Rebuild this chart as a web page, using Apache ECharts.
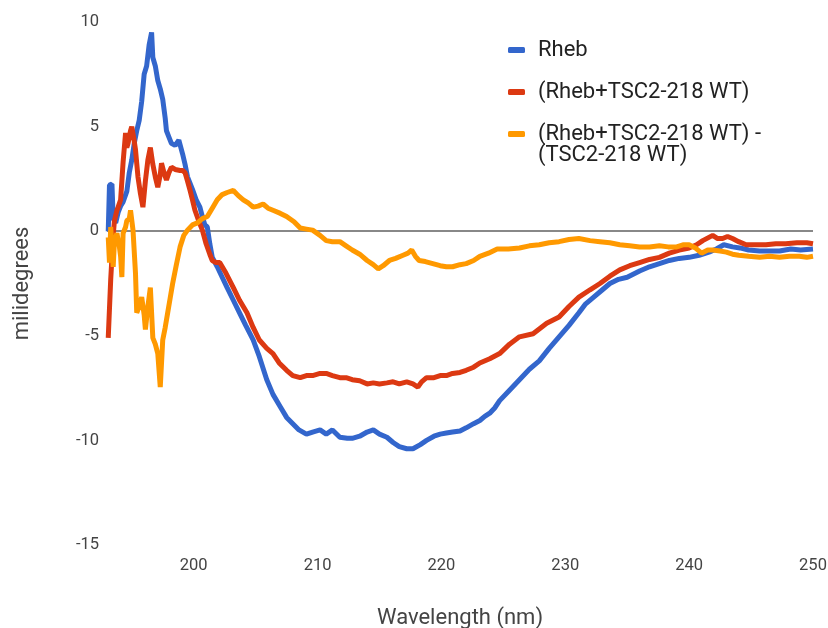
<!DOCTYPE html>
<html>
<head>
<meta charset="utf-8">
<script src="https://cdn.jsdelivr.net/npm/echarts@6/dist/echarts.min.js"></script>
<style>
  html, body { margin: 0; padding: 0; background: #fff; }
  #chart { width: 828px; height: 628px; }
</style>
</head>
<body>
<div id="chart"></div>
<script>
// series names
const seriesNames = ['Rheb', '(Rheb+TSC2-218 WT)', '(Rheb+TSC2-218 WT) - (TSC2-218 WT)'];
const xTicks = [200, 210, 220, 230, 240, 250];

// [wavelength nm, millidegrees]
const rheb = [
  [193.1, 0.0], [193.2, 2.2], [193.4, 2.25], [193.5, 0.6], [193.7, 0.4], [193.9, 0.9], [194.1, 1.2],
  [194.3, 1.4], [194.6, 1.9], [194.8, 2.8], [195.0, 3.4], [195.2, 4.2], [195.4, 4.8], [195.6, 5.3],
  [195.8, 6.2], [196.0, 7.5], [196.2, 7.9], [196.4, 8.9], [196.6, 9.5], [196.7, 8.3], [196.9, 7.9],
  [197.1, 7.2], [197.3, 6.8], [197.5, 6.3], [197.7, 5.4], [197.8, 4.8], [198.0, 4.5], [198.2, 4.2],
  [198.5, 4.1], [198.8, 4.35], [199.1, 3.7], [199.3, 3.2], [199.5, 2.6], [199.7, 2.3], [199.9, 2.0],
  [200.2, 1.5], [200.5, 1.15], [200.7, 0.7], [200.9, 0.3], [201.1, 0.2], [201.3, -0.6], [201.5, -1.25],
  [201.9, -1.7], [202.3, -2.2], [202.7, -2.7], [203.2, -3.3], [203.7, -3.9], [204.2, -4.5], [204.8, -5.2],
  [205.3, -6.0], [205.9, -7.1], [206.4, -7.8], [207.0, -8.4], [207.5, -8.9], [208.0, -9.2], [208.5, -9.5],
  [209.1, -9.7], [209.6, -9.6], [210.2, -9.5], [210.7, -9.7], [211.2, -9.5], [211.8, -9.85], [212.4, -9.9],
  [212.8, -9.9], [213.4, -9.8], [214.0, -9.6], [214.5, -9.5], [215.0, -9.7], [215.6, -9.85], [216.1, -10.1],
  [216.6, -10.3], [217.2, -10.4], [217.7, -10.4], [218.3, -10.2], [218.8, -10.0], [219.4, -9.8], [219.9, -9.7],
  [220.4, -9.65], [220.9, -9.6], [221.5, -9.55], [222.0, -9.4], [222.6, -9.2], [223.1, -9.05], [223.5, -8.85],
  [223.9, -8.7], [224.3, -8.45], [224.7, -8.1], [225.5, -7.6], [226.3, -7.1], [227.1, -6.6], [227.9, -6.2],
  [228.7, -5.6], [229.5, -5.05], [230.3, -4.5], [231.1, -3.9], [231.6, -3.5], [232.2, -3.2], [233.0, -2.8],
  [233.6, -2.5], [234.3, -2.3], [235.0, -2.2], [236.0, -1.9], [236.8, -1.7], [237.6, -1.55], [238.4, -1.4],
  [239.2, -1.3], [240.0, -1.25], [240.8, -1.15], [241.6, -1.0], [242.2, -0.85], [242.8, -0.65], [243.5, -0.75],
  [244.1, -0.8], [244.8, -0.9], [245.7, -0.95], [246.6, -0.95], [247.3, -0.95], [248.2, -0.85], [249.0, -0.9],
  [250.0, -0.85]
];

const rhebTsc = [
  [193.1, -5.1], [193.3, -2.3], [193.5, -0.2], [193.6, 0.5], [193.8, 1.0], [193.9, 1.15], [194.1, 1.5],
  [194.3, 3.3], [194.5, 4.7], [194.6, 4.0], [194.7, 4.2], [194.9, 4.8], [195.0, 5.0], [195.2, 4.3],
  [195.3, 3.9], [195.5, 2.6], [195.7, 1.8], [195.9, 1.15], [196.1, 2.4], [196.3, 3.4], [196.5, 4.0],
  [196.7, 3.2], [196.9, 2.6], [197.1, 2.1], [197.3, 2.7], [197.4, 3.25], [197.6, 2.8], [197.8, 2.45],
  [198.0, 2.8], [198.2, 3.06], [198.5, 2.95], [198.9, 2.9], [199.1, 2.9], [199.3, 2.8], [199.5, 2.4],
  [199.7, 1.96], [199.9, 1.5], [200.1, 1.0], [200.4, 0.5], [200.7, 0.05], [201.0, -0.6], [201.3, -1.1],
  [201.5, -1.4], [201.8, -1.5], [202.1, -1.5], [202.6, -2.0], [203.2, -2.7], [203.7, -3.3], [204.3, -3.9],
  [204.8, -4.6], [205.3, -5.2], [205.9, -5.6], [206.4, -5.85], [206.9, -6.3], [207.5, -6.65], [208.0, -6.9],
  [208.6, -7.0], [209.1, -6.9], [209.6, -6.9], [210.2, -6.8], [210.7, -6.8], [211.2, -6.9], [211.8, -7.0],
  [212.3, -7.0], [212.8, -7.1], [213.4, -7.15], [214.0, -7.3], [214.5, -7.25], [215.0, -7.3], [215.6, -7.25],
  [216.1, -7.2], [216.6, -7.3], [217.2, -7.2], [217.7, -7.3], [218.1, -7.45], [218.4, -7.2], [218.8, -7.0],
  [219.4, -7.0], [219.9, -6.9], [220.4, -6.9], [220.9, -6.8], [221.5, -6.75], [222.0, -6.65], [222.6, -6.5],
  [223.1, -6.3], [223.9, -6.1], [224.7, -5.85], [225.5, -5.4], [226.3, -5.05], [227.4, -4.9], [228.5, -4.4],
  [229.5, -4.1], [230.3, -3.6], [231.1, -3.15], [232.0, -2.8], [232.8, -2.5], [233.6, -2.15], [234.4, -1.85],
  [235.2, -1.65], [236.0, -1.5], [236.8, -1.35], [237.6, -1.25], [238.4, -1.05], [239.2, -0.9], [240.0, -0.8],
  [240.6, -0.65], [241.1, -0.45], [241.9, -0.2], [242.3, -0.35], [242.7, -0.35], [243.1, -0.25], [243.5, -0.35],
  [244.0, -0.5], [244.6, -0.65], [245.4, -0.65], [246.2, -0.65], [247.0, -0.6], [247.8, -0.6], [248.7, -0.55],
  [249.5, -0.55], [250.0, -0.6]
];

const difference = [
  [193.1, -0.3], [193.2, -1.5], [193.3, 0.2], [193.5, -1.7], [193.6, -0.5], [193.8, -0.1], [194.0, -0.75],
  [194.1, -1.2], [194.2, -2.2], [194.3, -0.1], [194.5, 0.2], [194.6, 0.5], [194.8, 0.6], [194.9, 1.0],
  [195.1, 0.05], [195.3, -2.0], [195.4, -3.9], [195.6, -3.6], [195.8, -3.15], [196.0, -4.0], [196.1, -4.7],
  [196.3, -3.6], [196.5, -2.7], [196.7, -5.1], [196.9, -5.4], [197.1, -5.85], [197.3, -7.45], [197.5, -5.2],
  [197.7, -4.6], [197.9, -3.9], [198.1, -3.2], [198.3, -2.5], [198.6, -1.6], [198.9, -0.75], [199.2, -0.2],
  [199.5, 0.05], [199.9, 0.3], [200.3, 0.4], [200.7, 0.6], [201.1, 0.7], [201.5, 1.1], [201.9, 1.5],
  [202.3, 1.75], [202.7, 1.85], [203.2, 1.95], [203.6, 1.7], [204.0, 1.5], [204.4, 1.35], [204.8, 1.15],
  [205.2, 1.2], [205.6, 1.3], [206.0, 1.1], [206.4, 1.0], [207.0, 0.85], [207.5, 0.7], [208.1, 0.45],
  [208.6, 0.15], [209.1, 0.1], [209.6, 0.05], [210.2, -0.2], [210.7, -0.45], [211.2, -0.5], [211.8, -0.5],
  [212.3, -0.7], [212.8, -0.9], [213.4, -1.1], [214.0, -1.4], [214.5, -1.6], [214.9, -1.8], [215.3, -1.65],
  [215.8, -1.4], [216.3, -1.3], [216.9, -1.15], [217.3, -1.05], [217.6, -0.9], [217.9, -1.2], [218.2, -1.4],
  [218.7, -1.45], [219.3, -1.55], [219.9, -1.65], [220.4, -1.7], [220.9, -1.7], [221.5, -1.6], [222.0, -1.55],
  [222.6, -1.4], [223.1, -1.2], [223.8, -1.05], [224.5, -0.85], [225.4, -0.85], [226.3, -0.8], [227.1, -0.7],
  [227.9, -0.65], [228.7, -0.55], [229.5, -0.5], [230.3, -0.4], [231.1, -0.35], [232.0, -0.45], [232.8, -0.5],
  [233.6, -0.55], [234.4, -0.65], [235.2, -0.7], [236.0, -0.75], [236.8, -0.75], [237.6, -0.7], [238.3, -0.75],
  [239.0, -0.75], [239.5, -0.65], [240.0, -0.65], [240.5, -0.8], [241.0, -1.05], [241.5, -0.9], [241.9, -0.9],
  [242.5, -0.95], [243.0, -1.0], [243.5, -1.1], [244.0, -1.15], [244.8, -1.2], [245.7, -1.25], [246.5, -1.2],
  [247.3, -1.25], [248.1, -1.2], [248.9, -1.2], [249.5, -1.25], [250.0, -1.2]
];

const colors = ['#3366cc', '#dc3912', '#ff9900'];
const font = 'Roboto, "Noto Sans", sans-serif';

const chart = echarts.init(document.getElementById('chart'));
chart.setOption({
  animation: false,
  color: colors,
  textStyle: { fontFamily: font },
  grid: { left: 107, right: 15, top: 22, bottom: 83, outerBoundsMode: 'none', containLabel: false },
  legend: {
    orient: 'vertical',
    left: 508,
    top: 38,
    padding: 0,
    itemWidth: 17,
    itemHeight: 6,
    itemGap: 18,
    icon: 'roundRect',
    textStyle: { fontSize: 22, color: '#222', fontFamily: font, lineHeight: 24, padding: [0, 0, 0, 8] },
    // last entry wraps: second line is drawn as graphic text below
    formatter: name => name.replace(' (TSC2-218 WT)', ''),
    data: seriesNames
  },
  graphic: [{
    type: 'text',
    x: 538,
    y: 155,
    style: { text: '(TSC2-218 WT)', fontSize: 22, fontFamily: font, fill: '#222', verticalAlign: 'middle' }
  }],
  xAxis: {
    type: 'value',
    min: 193,
    max: 250,
    name: 'Wavelength (nm)',
    nameLocation: 'middle',
    nameGap: 62,
    nameTextStyle: { fontSize: 22, color: '#444' },
    axisLine: { show: false },
    axisTick: { show: false },
    splitLine: { show: false },
    axisLabel: { customValues: xTicks, fontSize: 16.5, color: '#444', margin: 12 }
  },
  yAxis: {
    type: 'value',
    min: -15,
    max: 10,
    interval: 5,
    name: 'milidegrees',
    nameLocation: 'middle',
    nameGap: 74,
    nameTextStyle: { fontSize: 22, color: '#444' },
    axisLine: { show: false },
    axisTick: { show: false },
    splitLine: { show: false },
    axisLabel: { fontSize: 16.5, color: '#444', margin: 8 }
  },
  series: [
    {
      name: seriesNames[0], type: 'line', data: rheb, showSymbol: false, symbol: 'none',
      lineStyle: { width: 5 }, z: 3,
      markLine: {
        silent: true, symbol: 'none', label: { show: false },
        lineStyle: { color: '#888', width: 2, type: 'solid' },
        data: [{ yAxis: 0 }], z: 1
      }
    },
    { name: seriesNames[1], type: 'line', data: rhebTsc, showSymbol: false, symbol: 'none', lineStyle: { width: 5 }, z: 4 },
    { name: seriesNames[2], type: 'line', data: difference, showSymbol: false, symbol: 'none', lineStyle: { width: 5 }, z: 5 }
  ]
});
</script>
</body>
</html>
